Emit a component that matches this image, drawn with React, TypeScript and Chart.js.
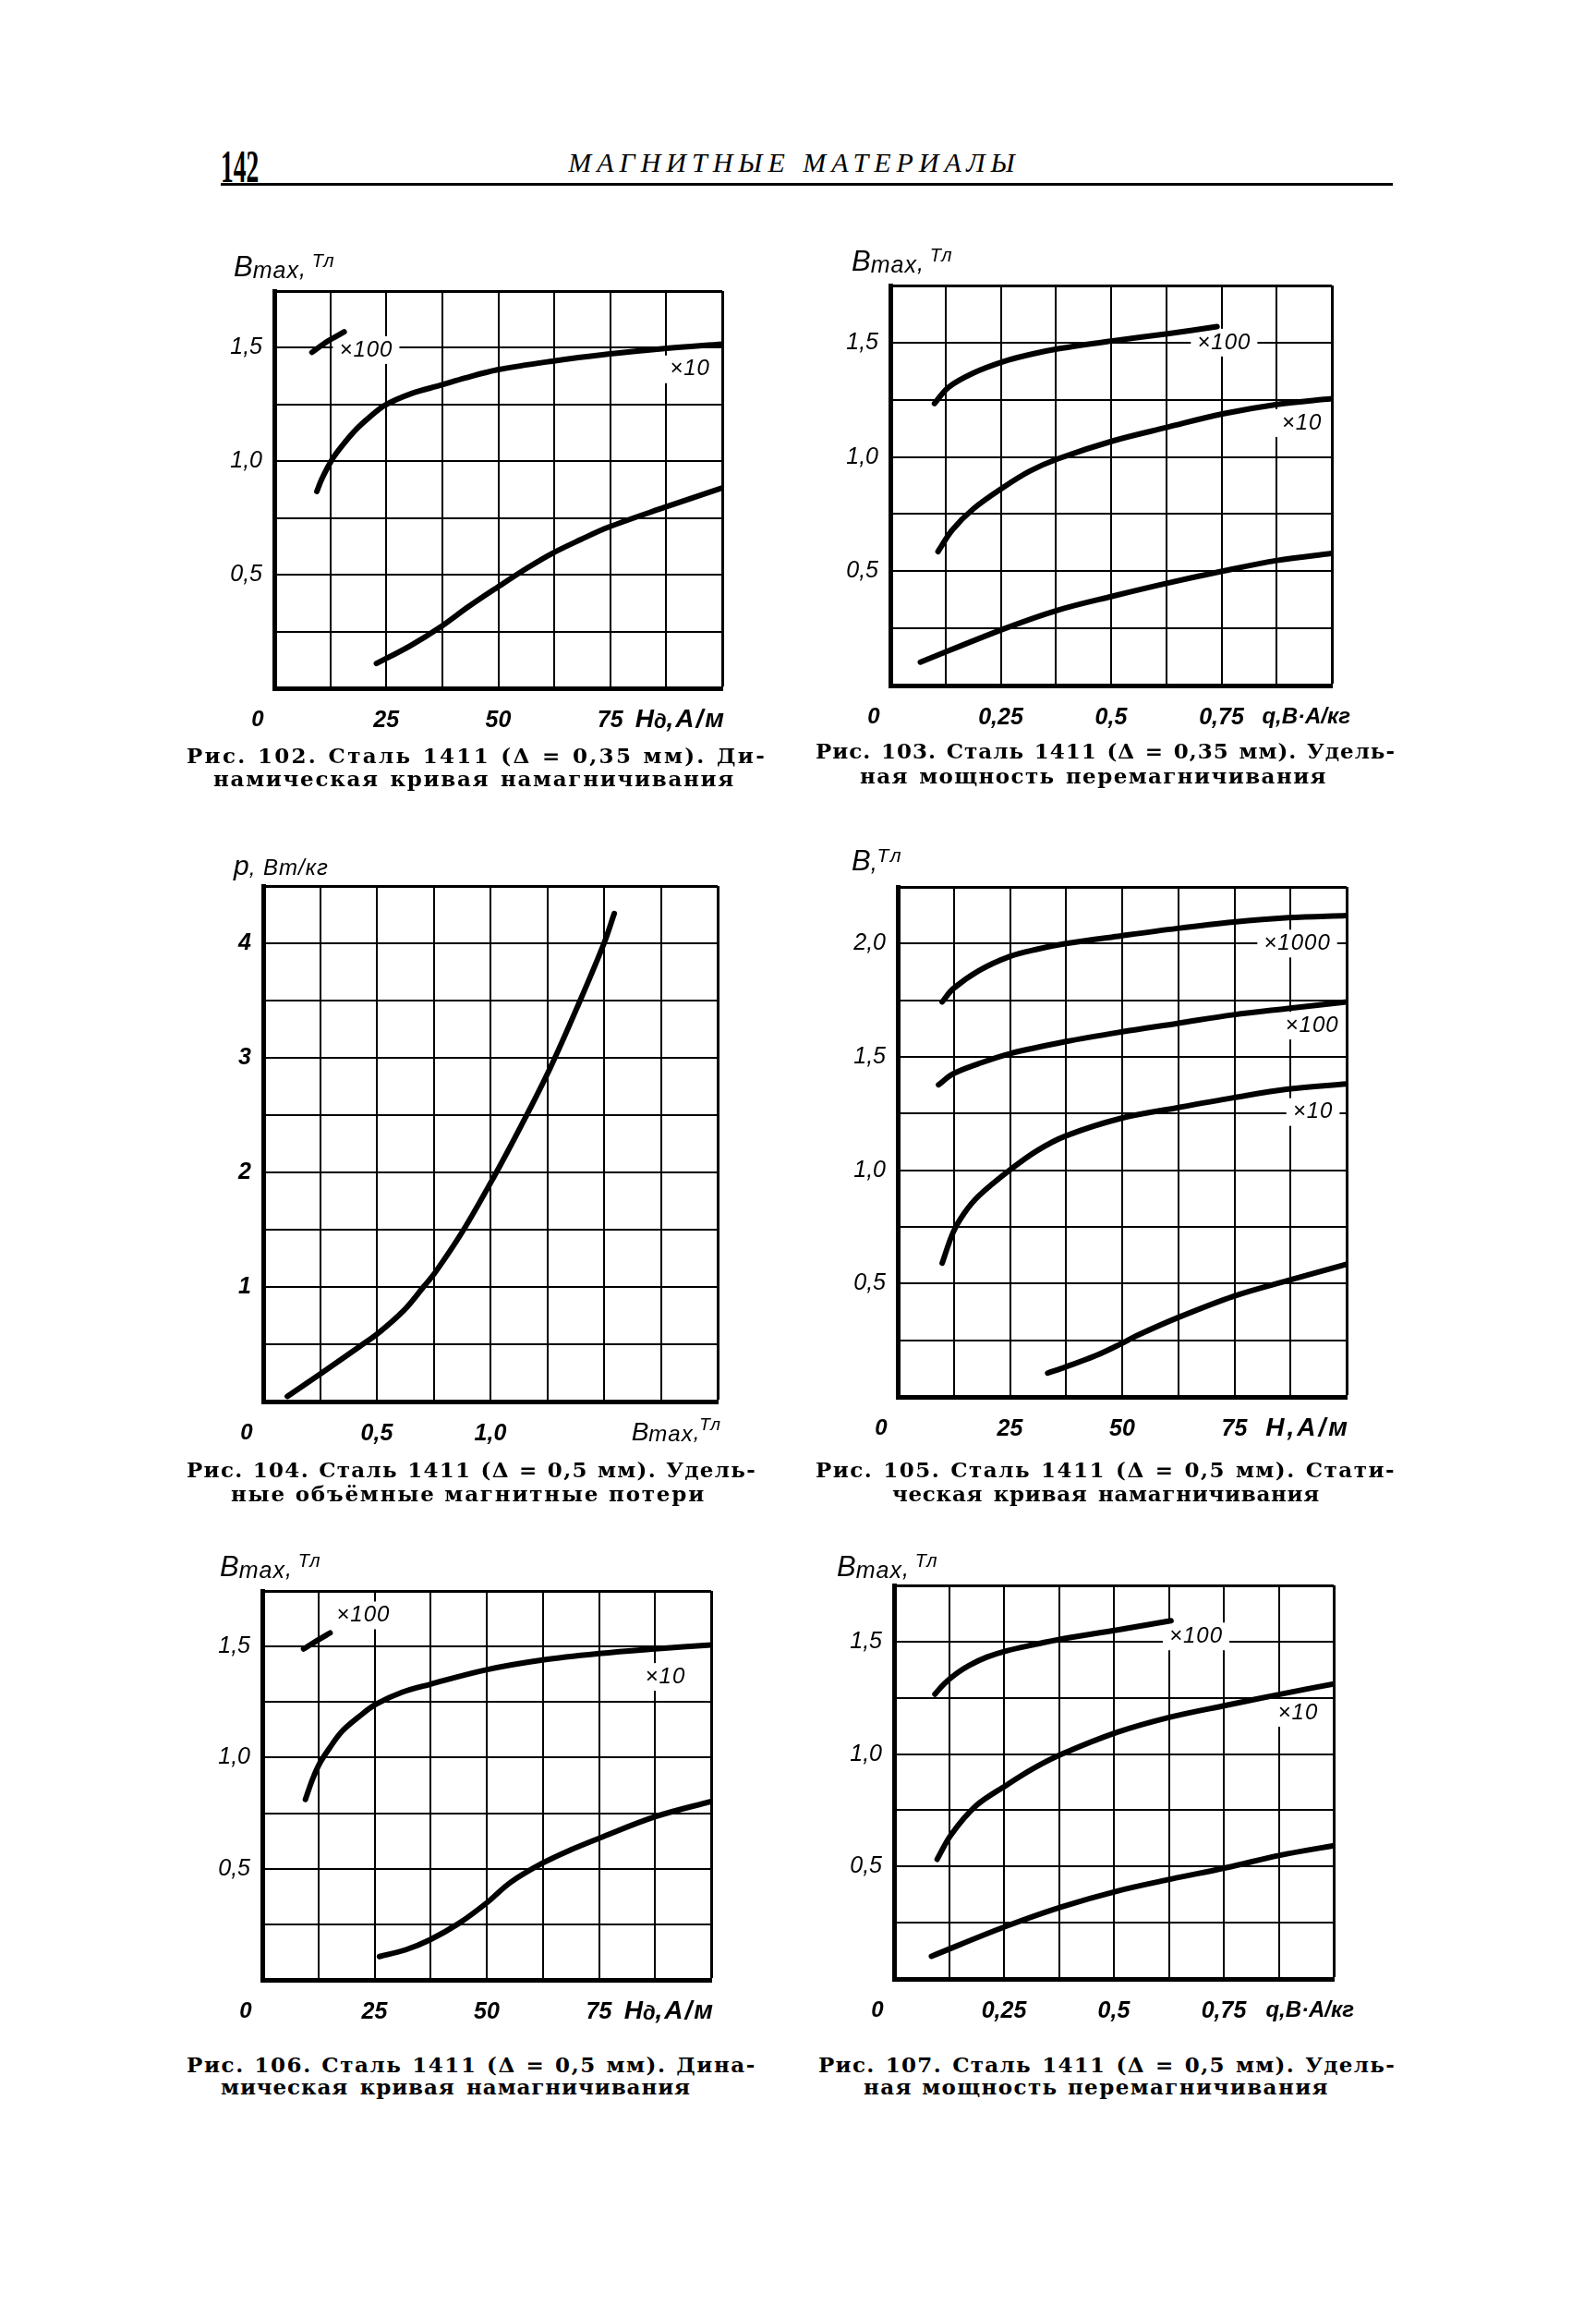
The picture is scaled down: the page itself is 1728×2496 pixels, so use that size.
import React, { useEffect, useRef } from 'react';
import { Chart, registerables } from 'chart.js';

Chart.register(...registerables);

// ---------- Data (read from the scanned page) ----------
// Рис. 102 — dynamic magnetisation curve, Δ = 0.35 mm (H, A/m → Bmax, T)
const fig102_x100_H = [8.4, 12.0, 15.6];
const fig102_x100_B = [1.48, 1.53, 1.57];
const fig102_x10_H = [9.5, 10.6, 12.9, 15.2, 18.3, 21.3, 24.7, 30.4, 37.3, 42.6, 49.8, 62.0, 74.5, 87.1, 100];
const fig102_x10_B = [0.867, 0.922, 1.008, 1.07, 1.141, 1.195, 1.247, 1.297, 1.336, 1.367, 1.403, 1.441, 1.472, 1.497, 1.516];
const fig102_x1_H = [22.8, 30.4, 37.3, 43.3, 49.8, 56.3, 62.0, 68.4, 74.5, 87.1, 100];
const fig102_x1_B = [0.109, 0.188, 0.273, 0.359, 0.445, 0.528, 0.594, 0.655, 0.709, 0.797, 0.883];

// Рис. 103 — specific magnetising power, Δ = 0.35 mm (q, VA/kg → Bmax, T)
const fig103_x100_q = [0.1, 0.132, 0.188, 0.256, 0.316, 0.38, 0.504, 0.628, 0.74];
const fig103_x100_B = [1.234, 1.305, 1.367, 1.417, 1.448, 1.473, 1.508, 1.539, 1.57];
const fig103_x10_q = [0.108, 0.14, 0.188, 0.256, 0.316, 0.38, 0.504, 0.628, 0.752, 0.876, 1.0];
const fig103_x10_B = [0.586, 0.68, 0.773, 0.867, 0.938, 0.992, 1.07, 1.13, 1.188, 1.23, 1.255];
const fig103_x1_q = [0.068, 0.256, 0.38, 0.504, 0.628, 0.752, 0.876, 1.0];
const fig103_x1_B = [0.102, 0.247, 0.33, 0.391, 0.448, 0.5, 0.547, 0.578];

// Рис. 104 — specific volume losses, Δ = 0.5 mm (Bmax, T → p, W/kg)
const fig104_B = [0.106, 0.258, 0.424, 0.508, 0.621, 0.705, 0.758, 0.879, 1.015, 1.136, 1.265, 1.386, 1.5, 1.545];
const fig104_p = [0.045, 0.25, 0.48, 0.6, 0.8, 1.0, 1.13, 1.49, 1.96, 2.41, 2.92, 3.46, 4.0, 4.26];

// Рис. 105 — static magnetisation curve, Δ = 0.5 mm (H, A/m → B, T)
const fig105_x1000_H = [9.9, 12.3, 18.0, 24.9, 31.0, 37.5, 49.7, 62.3, 74.8, 87.0, 100];
const fig105_x1000_B = [1.743, 1.8, 1.88, 1.943, 1.975, 2.0, 2.034, 2.067, 2.095, 2.114, 2.124];
const fig105_x100_H = [9.1, 12.3, 18.0, 24.9, 37.5, 49.7, 62.3, 74.8, 87.0, 100];
const fig105_x100_B = [1.377, 1.425, 1.47, 1.514, 1.568, 1.61, 1.648, 1.686, 1.714, 1.743];
const fig105_x10_H = [9.9, 12.3, 14.8, 18.0, 24.9, 31.0, 37.5, 49.7, 62.3, 74.8, 87.0, 100];
const fig105_x10_B = [0.59, 0.724, 0.81, 0.886, 1.0, 1.086, 1.152, 1.229, 1.276, 1.32, 1.358, 1.381];
const fig105_x1_H = [33.4, 37.5, 44.0, 49.7, 53.0, 62.3, 74.8, 87.0, 100];
const fig105_x1_B = [0.105, 0.133, 0.181, 0.234, 0.268, 0.349, 0.444, 0.514, 0.585];

// Рис. 106 — dynamic magnetisation curve, Δ = 0.5 mm
const fig106_x100_H = [9.2, 12.4, 15.1];
const fig106_x100_B = [1.489, 1.529, 1.561];
const fig106_x10_H = [9.6, 11.2, 12.8, 15.1, 17.8, 21.4, 25.3, 31.1, 37.4, 49.9, 62.4, 75.0, 87.5, 100];
const fig106_x10_B = [0.812, 0.903, 0.975, 1.047, 1.119, 1.182, 1.24, 1.294, 1.33, 1.395, 1.439, 1.468, 1.489, 1.507];
const fig106_x1_H = [26.1, 31.9, 37.4, 43.7, 49.9, 55.4, 62.4, 68.7, 75.0, 87.5, 100];
const fig106_x1_B = [0.105, 0.135, 0.181, 0.253, 0.345, 0.44, 0.525, 0.585, 0.637, 0.734, 0.803];

// Рис. 107 — specific magnetising power, Δ = 0.5 mm
const fig107_x100_q = [0.093, 0.114, 0.142, 0.171, 0.211, 0.256, 0.317, 0.382, 0.508, 0.63];
const fig107_x100_B = [1.266, 1.312, 1.358, 1.394, 1.431, 1.459, 1.486, 1.512, 1.552, 1.593];
const fig107_x10_q = [0.098, 0.13, 0.187, 0.256, 0.317, 0.382, 0.508, 0.63, 0.756, 0.878, 1.0];
const fig107_x10_B = [0.532, 0.642, 0.771, 0.862, 0.936, 1.0, 1.097, 1.165, 1.217, 1.266, 1.312];
const fig107_x1_q = [0.085, 0.256, 0.382, 0.508, 0.63, 0.756, 0.878, 1.0];
const fig107_x1_B = [0.101, 0.235, 0.321, 0.391, 0.444, 0.495, 0.55, 0.593];

// ---------- Tick labels ----------
const hTickVals = [25, 50, 75];
const hTickText = ['25', '50', '75'];
const qTickVals = [0.25, 0.5, 0.75];
const qTickText = ['0,25', '0,5', '0,75'];
const bTickVals = [0.5, 1.0, 1.5];
const bTickText = ['0,5', '1,0', '1,5'];
const b4TickVals = [0.5, 1.0, 1.5, 2.0];
const b4TickText = ['0,5', '1,0', '1,5', '2,0'];
const pTickVals = [1, 2, 3, 4];
const pTickText = ['1', '2', '3', '4'];
const bmaxTickVals = [0.5, 1.0];
const bmaxTickText = ['0,5', '1,0'];

// ---------- Layout helpers ----------
const FONT = "'Liberation Sans', 'DejaVu Sans', sans-serif";
const CAPTION_FONT = "'DejaVu Serif', 'Liberation Serif', serif";
const PAD_L = 100;
const PAD_R = 40;
const PAD_T = 60;
const PAD_B = 70;
const X_TICK_PAD = 20;

type Part = { t: string; s: number; dy?: number; w?: string; ls?: number };
type Note = { text: string; x: number; y: number };
type Series = { xs: number[]; ys: number[] };
type Spec = {
  box: { l: number; t: number; r: number; b: number };
  xMax: number;
  xStep: number;
  yMax: number;
  yStep: number;
  xTickVals: number[];
  xTickText: string[];
  yTickVals: number[];
  yTickText: string[];
  yBold?: boolean;
  series: Series[];
  notes: Note[];
  xTitle: Part[];
  xTitleDx: number;
  yTitle: Part[];
  yTitleDx: number;
  yTitleDy: number;
};

const bmaxTitle: Part[] = [
  { t: 'B', s: 31 },
  { t: 'max', s: 25, dy: 2, ls: 1 },
  { t: ', ', s: 25 },
  { t: 'Тл', s: 20, dy: -10, ls: 1 },
];
const hdTitle: Part[] = [
  { t: 'H', s: 28, w: 'bold' },
  { t: 'д', s: 22, w: 'bold', dy: 3 },
  { t: ',A/м', s: 28, w: 'bold', ls: 2 },
];
const qTitle: Part[] = [{ t: 'q,В·А/кг', s: 24, w: 'bold', ls: 0 }];
const hTitle: Part[] = [{ t: 'H,A/м', s: 28, w: 'bold', ls: 3 }];
const bmaxXTitle: Part[] = [
  { t: 'B', s: 28 },
  { t: 'max', s: 24, dy: 2, ls: 1 },
  { t: ',', s: 24 },
  { t: 'Тл', s: 19, dy: -9, ls: 1 },
];
const pTitle: Part[] = [
  { t: 'p', s: 30 },
  { t: ', Вт/кг', s: 24, ls: 1 },
];
const bTitle: Part[] = [
  { t: 'B', s: 31 },
  { t: ',', s: 25 },
  { t: 'Тл', s: 21, dy: -9, ls: 2 },
];

const specs: Spec[] = [
  {
    box: { l: 297, t: 315, r: 782, b: 745 },
    xMax: 100, xStep: 12.5, yMax: 1.75, yStep: 0.25,
    xTickVals: hTickVals, xTickText: hTickText,
    yTickVals: bTickVals, yTickText: bTickText,
    series: [
      { xs: fig102_x100_H, ys: fig102_x100_B },
      { xs: fig102_x10_H, ys: fig102_x10_B },
      { xs: fig102_x1_H, ys: fig102_x1_B },
    ],
    notes: [
      { text: '×100', x: 20.5, y: 1.49 },
      { text: '×10', x: 92.8, y: 1.405 },
    ],
    xTitle: hdTitle, xTitleDx: 4, yTitle: bmaxTitle, yTitleDx: -44, yTitleDy: -16,
  },
  {
    box: { l: 964, t: 309, r: 1442, b: 742 },
    xMax: 1, xStep: 0.125, yMax: 1.75, yStep: 0.25,
    xTickVals: qTickVals, xTickText: qTickText,
    yTickVals: bTickVals, yTickText: bTickText,
    series: [
      { xs: fig103_x100_q, ys: fig103_x100_B },
      { xs: fig103_x10_q, ys: fig103_x10_B },
      { xs: fig103_x1_q, ys: fig103_x1_B },
    ],
    notes: [
      { text: '×100', x: 0.756, y: 1.5 },
      { text: '×10', x: 0.932, y: 1.148 },
    ],
    xTitle: qTitle, xTitleDx: 20, yTitle: bmaxTitle, yTitleDx: -42, yTitleDy: -16,
  },
  {
    box: { l: 285, t: 959, r: 777, b: 1517 },
    xMax: 2, xStep: 0.25, yMax: 4.5, yStep: 0.5,
    xTickVals: bmaxTickVals, xTickText: bmaxTickText,
    yTickVals: pTickVals, yTickText: pTickText, yBold: true,
    series: [{ xs: fig104_B, ys: fig104_p }],
    notes: [],
    xTitle: bmaxXTitle, xTitleDx: 4, yTitle: pTitle, yTitleDx: -32, yTitleDy: -12,
  },
  {
    box: { l: 972, t: 960, r: 1458, b: 1512 },
    xMax: 100, xStep: 12.5, yMax: 2.25, yStep: 0.25,
    xTickVals: hTickVals, xTickText: hTickText,
    yTickVals: b4TickVals, yTickText: b4TickText,
    series: [
      { xs: fig105_x1000_H, ys: fig105_x1000_B },
      { xs: fig105_x100_H, ys: fig105_x100_B },
      { xs: fig105_x10_H, ys: fig105_x10_B },
      { xs: fig105_x1_H, ys: fig105_x1_B },
    ],
    notes: [
      { text: '×1000', x: 89, y: 2.0 },
      { text: '×100', x: 92.3, y: 1.638 },
      { text: '×10', x: 92.5, y: 1.257 },
    ],
    xTitle: hTitle, xTitleDx: 4, yTitle: bTitle, yTitleDx: -50, yTitleDy: -18,
  },
  {
    box: { l: 284, t: 1722, r: 770, b: 2143 },
    xMax: 100, xStep: 12.5, yMax: 1.75, yStep: 0.25,
    xTickVals: hTickVals, xTickText: hTickText,
    yTickVals: bTickVals, yTickText: bTickText,
    series: [
      { xs: fig106_x100_H, ys: fig106_x100_B },
      { xs: fig106_x10_H, ys: fig106_x10_B },
      { xs: fig106_x1_H, ys: fig106_x1_B },
    ],
    notes: [
      { text: '×100', x: 22.5, y: 1.64 },
      { text: '×10', x: 89.8, y: 1.363 },
    ],
    xTitle: hdTitle, xTitleDx: 4, yTitle: bmaxTitle, yTitleDx: -46, yTitleDy: -16,
  },
  {
    box: { l: 968, t: 1716, r: 1444, b: 2142 },
    xMax: 1, xStep: 0.125, yMax: 1.75, yStep: 0.25,
    xTickVals: qTickVals, xTickText: qTickText,
    yTickVals: bTickVals, yTickText: bTickText,
    series: [
      { xs: fig107_x100_q, ys: fig107_x100_B },
      { xs: fig107_x10_q, ys: fig107_x10_B },
      { xs: fig107_x1_q, ys: fig107_x1_B },
    ],
    notes: [
      { text: '×100', x: 0.687, y: 1.523 },
      { text: '×10', x: 0.919, y: 1.183 },
    ],
    xTitle: qTitle, xTitleDx: 22, yTitle: bmaxTitle, yTitleDx: -62, yTitleDy: -10,
  },
];

// caption lines: left edge, width, vertical centre, letter spacing
const captions = [
  { l: 202, w: 628, cy: 818, ls: 2.3, text: 'Рис. 102. Сталь 1411 (Δ = 0,35 мм). Ди-' },
  { l: 231, w: 565, cy: 843, ls: 1.7, text: 'намическая кривая намагничивания' },
  { l: 883, w: 628, cy: 813, ls: 1.0, text: 'Рис. 103. Сталь 1411 (Δ = 0,35 мм). Удель-' },
  { l: 931, w: 506, cy: 840, ls: 1.4, text: 'ная мощность перемагничивания' },
  { l: 202, w: 617, cy: 1591, ls: 1.3, text: 'Рис. 104. Сталь 1411 (Δ = 0,5 мм). Удель-' },
  { l: 207, w: 600, cy: 1617, ls: 1.8, center: true, text: 'ные объёмные магнитные потери' },
  { l: 883, w: 628, cy: 1591, ls: 1.5, text: 'Рис. 105. Сталь 1411 (Δ = 0,5 мм). Стати-' },
  { l: 966, w: 463, cy: 1617, ls: 0.7, text: 'ческая кривая намагничивания' },
  { l: 202, w: 617, cy: 2235, ls: 1.6, text: 'Рис. 106. Сталь 1411 (Δ = 0,5 мм). Дина-' },
  { l: 239, w: 509, cy: 2259, ls: 0.9, text: 'мическая кривая намагничивания' },
  { l: 886, w: 625, cy: 2235, ls: 1.3, text: 'Рис. 107. Сталь 1411 (Δ = 0,5 мм). Удель-' },
  { l: 935, w: 504, cy: 2259, ls: 1.4, text: 'ная мощность перемагничивания' },
];

function lookup(vals: number[], texts: string[], v: number): string {
  for (let i = 0; i < vals.length; i++) {
    if (Math.abs(vals[i] - v) < 1e-6) return texts[i];
  }
  return '';
}

function drawParts(ctx: CanvasRenderingContext2D, parts: Part[], x: number, y: number, align: 'left' | 'right') {
  const c: any = ctx;
  const setFont = (p: Part) => {
    ctx.font = `italic ${p.w || 'normal'} ${p.s}px ${FONT}`;
    c.letterSpacing = `${p.ls || 0}px`;
  };
  const widths = parts.map((p) => {
    setFont(p);
    return ctx.measureText(p.t).width;
  });
  const total = widths.reduce((a, b) => a + b, 0);
  let cx = align === 'right' ? x - total : x;
  ctx.textAlign = 'left';
  parts.forEach((p, i) => {
    setFont(p);
    ctx.fillText(p.t, cx, y + (p.dy || 0));
    cx += widths[i];
  });
  c.letterSpacing = '0px';
}

function annotPlugin(spec: Spec) {
  return {
    id: 'annot',
    beforeDatasetsDraw(chart: any) {
      const ctx: CanvasRenderingContext2D = chart.ctx;
      const xs = chart.scales.x;
      const ys = chart.scales.y;
      ctx.save();
      ctx.font = `italic 24px ${FONT}`;
      (ctx as any).letterSpacing = '1px';
      ctx.textAlign = 'center';
      ctx.textBaseline = 'middle';
      for (const n of spec.notes) {
        const px = xs.getPixelForValue(n.x);
        const py = ys.getPixelForValue(n.y);
        const w = ctx.measureText(n.text).width;
        ctx.fillStyle = '#fff';
        ctx.fillRect(px - w / 2 - 7, py - 15, w + 14, 30);
        ctx.fillStyle = '#000';
        ctx.fillText(n.text, px, py);
      }
      (ctx as any).letterSpacing = '0px';
      ctx.restore();
    },
    afterDraw(chart: any) {
      const ctx: CanvasRenderingContext2D = chart.ctx;
      const area = chart.chartArea;
      const labelMid = area.bottom + X_TICK_PAD + 14.4;
      ctx.save();
      ctx.fillStyle = '#000';
      ctx.textBaseline = 'middle';
      ctx.textAlign = 'center';
      ctx.font = `italic bold 24px ${FONT}`;
      ctx.fillText('0', area.left - 18, labelMid);
      drawParts(ctx, spec.xTitle, area.right + spec.xTitleDx, labelMid, 'right');
      ctx.textBaseline = 'alphabetic';
      drawParts(ctx, spec.yTitle, area.left + spec.yTitleDx, area.top + spec.yTitleDy, 'left');
      ctx.restore();
    },
  };
}

function buildConfig(spec: Spec): any {
  const gridW = (max: number) => (c: any) => (c.tick && Math.abs(c.tick.value - max) < 1e-6 ? 3 : 2);
  return {
    type: 'line',
    data: {
      datasets: spec.series.map((s) => ({
        data: s.xs.map((x, i) => ({ x, y: s.ys[i] })),
        borderColor: '#000',
        borderWidth: 6,
        pointRadius: 0,
        pointHoverRadius: 0,
        tension: 0.35,
        cubicInterpolationMode: 'default',
        fill: false,
        borderCapStyle: 'round',
        borderJoinStyle: 'round',
      })),
    },
    options: {
      animation: false,
      responsive: false,
      events: [],
      layout: { padding: { top: PAD_T, right: PAD_R, left: 0, bottom: 0 } },
      plugins: { legend: { display: false }, tooltip: { enabled: false }, title: { display: false } },
      scales: {
        x: {
          type: 'linear',
          min: 0,
          max: spec.xMax,
          afterFit: (s: any) => {
            s.height = PAD_B;
          },
          ticks: {
            stepSize: spec.xStep,
            autoSkip: false,
            maxRotation: 0,
            minRotation: 0,
            padding: X_TICK_PAD,
            color: '#000',
            font: { family: FONT, size: 25, style: 'italic', weight: 'bold' },
            callback: (v: any) => lookup(spec.xTickVals, spec.xTickText, Number(v)),
          },
          grid: { color: '#000', lineWidth: gridW(spec.xMax), drawTicks: false },
          border: { display: true, color: '#000', width: 5 },
        },
        y: {
          type: 'linear',
          min: 0,
          max: spec.yMax,
          afterFit: (s: any) => {
            s.width = PAD_L;
          },
          ticks: {
            stepSize: spec.yStep,
            autoSkip: false,
            padding: 13,
            color: '#000',
            font: { family: FONT, size: 25, style: 'italic', weight: spec.yBold ? 'bold' : 'normal' },
            callback: (v: any) => lookup(spec.yTickVals, spec.yTickText, Number(v)),
          },
          grid: { color: '#000', lineWidth: gridW(spec.yMax), drawTicks: false },
          border: { display: true, color: '#000', width: 5 },
        },
      },
    },
    plugins: [annotPlugin(spec)],
  };
}

function ChartBox({ spec }: { spec: Spec }) {
  const ref = useRef<HTMLCanvasElement>(null);
  const w = spec.box.r - spec.box.l + PAD_L + PAD_R;
  const h = spec.box.b - spec.box.t + PAD_T + PAD_B;
  useEffect(() => {
    const c = ref.current;
    if (!c) return;
    const chart = new Chart(c, buildConfig(spec));
    return () => chart.destroy();
  }, [spec]);
  return (
    <canvas
      ref={ref}
      width={w}
      height={h}
      style={{ position: 'absolute', left: spec.box.l - PAD_L, top: spec.box.t - PAD_T, width: w, height: h }}
    />
  );
}

export default function App() {
  return (
    <div
      style={{
        position: 'absolute',
        left: 0,
        top: 0,
        width: 1728,
        height: 2496,
        background: '#fff',
        overflow: 'hidden',
        color: '#000',
      }}
    >
      <div
        style={{
          position: 'absolute',
          left: 239,
          top: 155,
          fontFamily: "'Liberation Serif', serif",
          fontWeight: 'bold',
          fontSize: 50,
          lineHeight: '50px',
          transform: 'scaleX(0.55)',
          transformOrigin: 'left top',
          whiteSpace: 'nowrap',
        }}
      >
        142
      </div>
      <div
        style={{
          position: 'absolute',
          left: 460,
          width: 800,
          top: 161,
          textAlign: 'center',
          fontFamily: "'Liberation Serif', serif",
          fontStyle: 'italic',
          fontSize: 30,
          lineHeight: '30px',
          letterSpacing: 6,
          whiteSpace: 'nowrap',
        }}
      >
        МАГНИТНЫЕ МАТЕРИАЛЫ
      </div>
      <div style={{ position: 'absolute', left: 239, top: 198, width: 1269, height: 3, background: '#000' }} />
      {specs.map((s, i) => (
        <ChartBox key={i} spec={s} />
      ))}
      {captions.map((c: any, i) => (
        <div
          key={'c' + i}
          style={{
            position: 'absolute',
            left: c.l,
            width: c.w,
            top: c.cy - 13,
            textAlign: c.center ? 'center' : 'justify',
            textAlignLast: c.center ? 'center' : 'justify',
            fontFamily: CAPTION_FONT,
            fontWeight: 'bold',
            fontSize: 23,
            lineHeight: '26px',
            height: 26,
            letterSpacing: c.ls,
            whiteSpace: c.center ? 'nowrap' : 'normal',
          }}
        >
          {c.text}
        </div>
      ))}
    </div>
  );
}
